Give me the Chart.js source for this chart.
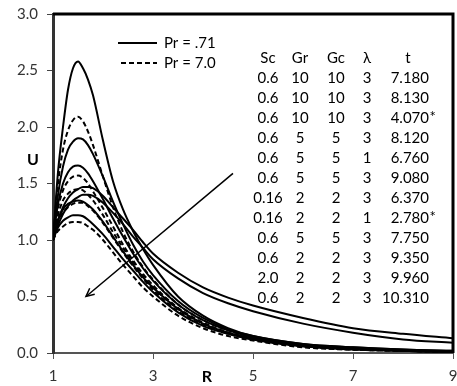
<!DOCTYPE html>
<html>
<head>
<meta charset="utf-8">
<script src="https://cdn.jsdelivr.net/npm/chart.js@4/dist/chart.umd.min.js"></script>
<style>
  html, body { margin: 0; padding: 0; background: #fff; }
  canvas { display: block; }
</style>
</head>
<body>
<canvas id="c" width="457" height="386"></canvas>
<script>
// Radial coordinate R and velocity profiles U(R)
const R = [1, 1.1, 1.2, 1.3, 1.4, 1.5, 1.6, 1.7, 1.8, 2.0, 2.2, 2.4, 2.6, 2.8, 3.0, 3.5, 4.0, 4.5, 5.0, 6.0, 7.0, 8.0, 9.0];

const u01 = [1.0, 1.6, 2.0, 2.33, 2.52, 2.58, 2.52, 2.42, 2.28, 1.88, 1.52, 1.27, 1.08, 0.92, 0.78, 0.5, 0.33, 0.22, 0.15, 0.08, 0.05, 0.03, 0.02];
const u02 = [1.0, 1.5, 1.8, 1.97, 2.06, 2.09, 2.05, 1.96, 1.84, 1.56, 1.29, 1.07, 0.9, 0.76, 0.65, 0.43, 0.29, 0.2, 0.14, 0.07, 0.04, 0.02, 0.01];
const u03 = [1.0, 1.4, 1.65, 1.8, 1.87, 1.9, 1.89, 1.84, 1.76, 1.56, 1.34, 1.14, 0.96, 0.81, 0.69, 0.46, 0.31, 0.21, 0.15, 0.08, 0.05, 0.03, 0.02];
const u04 = [1.0, 1.32, 1.5, 1.6, 1.65, 1.66, 1.64, 1.59, 1.52, 1.36, 1.19, 1.03, 0.88, 0.75, 0.64, 0.43, 0.29, 0.2, 0.14, 0.07, 0.04, 0.02, 0.01];
const u05 = [1.0, 1.28, 1.44, 1.52, 1.56, 1.57, 1.55, 1.5, 1.43, 1.28, 1.12, 0.96, 0.82, 0.7, 0.6, 0.4, 0.27, 0.18, 0.13, 0.06, 0.03, 0.02, 0.01];
const u06 = [1.0, 1.17, 1.29, 1.37, 1.42, 1.45, 1.47, 1.47, 1.46, 1.39, 1.29, 1.19, 1.09, 0.98, 0.88, 0.71, 0.58, 0.49, 0.42, 0.31, 0.22, 0.17, 0.13];
const u07 = [1.0, 1.13, 1.23, 1.3, 1.35, 1.38, 1.4, 1.4, 1.39, 1.33, 1.24, 1.14, 1.03, 0.93, 0.83, 0.66, 0.53, 0.44, 0.37, 0.26, 0.18, 0.12, 0.09];
const u08 = [1.0, 1.22, 1.35, 1.41, 1.44, 1.45, 1.44, 1.4, 1.35, 1.22, 1.07, 0.93, 0.8, 0.68, 0.58, 0.39, 0.26, 0.18, 0.12, 0.06, 0.03, 0.02, 0.01];
const u09 = [1.0, 1.18, 1.27, 1.32, 1.34, 1.35, 1.34, 1.31, 1.27, 1.16, 1.03, 0.9, 0.78, 0.67, 0.58, 0.39, 0.26, 0.18, 0.13, 0.07, 0.04, 0.02, 0.01];
const u10 = [1.0, 1.15, 1.24, 1.29, 1.32, 1.33, 1.33, 1.3, 1.26, 1.15, 1.02, 0.89, 0.77, 0.66, 0.56, 0.37, 0.25, 0.17, 0.12, 0.06, 0.03, 0.02, 0.01];
const u11 = [1.0, 1.11, 1.17, 1.2, 1.22, 1.22, 1.21, 1.18, 1.14, 1.05, 0.94, 0.83, 0.73, 0.63, 0.54, 0.36, 0.24, 0.17, 0.12, 0.06, 0.04, 0.02, 0.01];
const u12 = [1.0, 1.08, 1.12, 1.15, 1.16, 1.16, 1.15, 1.12, 1.09, 1.0, 0.89, 0.78, 0.68, 0.58, 0.5, 0.33, 0.22, 0.15, 0.11, 0.05, 0.03, 0.02, 0.01];

// Prandtl number of each profile (0.71 solid, 7.0 dashed)
const profilePr = [0.71, 7.0, 0.71, 0.71, 7.0, 0.71, 0.71, 7.0, 0.71, 7.0, 0.71, 7.0];
const profiles = [u01, u02, u03, u04, u05, u06, u07, u08, u09, u10, u11, u12];

// Parameter table
const tableHead = ['Sc', 'Gr', 'Gc', '\u03bb', 't'];
const colSc = ['0.6', '0.6', '0.6', '0.6', '0.6', '0.6', '0.16', '0.16', '0.6', '0.6', '2.0', '0.6'];
const colGr = ['10', '10', '10', '5', '5', '5', '2', '2', '5', '2', '2', '2'];
const colGc = ['10', '10', '10', '5', '5', '5', '2', '2', '5', '2', '2', '2'];
const colLambda = ['3', '3', '3', '3', '1', '3', '3', '1', '3', '3', '3', '3'];
const colT = ['7.180', '8.130', '4.070*', '8.120', '6.760', '9.080', '6.370', '2.780*', '7.750', '9.350', '9.960', '10.310'];

const legendLabels = ['Pr = .71', 'Pr = 7.0'];

// Trend arrow (tail, head) in data units
const arrowR = [4.6, 1.66];
const arrowU = [1.59, 0.5];

// Axis ticks
const xTicks = [1, 3, 5, 7, 9];
const yTicks = [0, 0.5, 1.0, 1.5, 2.0, 2.5, 3.0];

const FONT = 'Lato, "Open Sans", sans-serif';
const DASH = [5, 3];

const datasets = profiles.map((u, i) => ({
  data: R.map((r, k) => ({ x: r, y: u[k] })),
  borderColor: '#000',
  borderWidth: 2,
  borderDash: profilePr[i] === 7.0 ? DASH : [],
  pointRadius: 0,
  fill: false,
  cubicInterpolationMode: 'monotone'
}));

datasets.push({
  data: arrowR.map((r, k) => ({ x: r, y: arrowU[k] })),
  borderColor: '#000',
  borderWidth: 1.5,
  pointRadius: 0,
  fill: false,
  tension: 0,
  isArrow: true
});

const decorations = {
  id: 'decorations',
  afterDraw(chart) {
    const ctx = chart.ctx;
    const a = chart.chartArea;
    ctx.save();

    // frame on top and right
    ctx.strokeStyle = '#000';
    ctx.lineWidth = 3;
    ctx.beginPath();
    ctx.moveTo(a.left, a.top);
    ctx.lineTo(a.right, a.top);
    ctx.lineTo(a.right, a.bottom);
    ctx.stroke();

    // arrow head
    const ai = chart.data.datasets.findIndex(d => d.isArrow);
    const pts = chart.getDatasetMeta(ai).data;
    const p0 = pts[0], p1 = pts[1];
    const ang = Math.atan2(p1.y - p0.y, p1.x - p0.x);
    const L = 9, w = 0.45;
    ctx.lineWidth = 1.5;
    ctx.beginPath();
    ctx.moveTo(p1.x - L * Math.cos(ang - w), p1.y - L * Math.sin(ang - w));
    ctx.lineTo(p1.x, p1.y);
    ctx.lineTo(p1.x - L * Math.cos(ang + w), p1.y - L * Math.sin(ang + w));
    ctx.stroke();

    // legend
    ctx.fillStyle = '#000';
    ctx.font = '15px ' + FONT;
    ctx.textBaseline = 'middle';
    ctx.textAlign = 'left';
    const legY = [43, 63];
    legendLabels.forEach((lab, i) => {
      ctx.lineWidth = 2;
      ctx.setLineDash(i === 1 ? DASH : []);
      ctx.beginPath();
      ctx.moveTo(i === 1 ? 121 : 118, legY[i]);
      ctx.lineTo(157, legY[i]);
      ctx.stroke();
      ctx.setLineDash([]);
      ctx.fillText(lab, 164, legY[i]);
    });

    // parameter table
    const colX = [268, 300, 336, 367];
    const tRight = 429;
    const headY = 58, rowH = 20;
    ctx.textAlign = 'center';
    tableHead.forEach((h, j) => {
      ctx.fillText(h, j < 4 ? colX[j] : 408, headY);
    });
    const cols = [colSc, colGr, colGc, colLambda];
    colT.forEach((tv, i) => {
      const y = headY + rowH * (i + 1);
      ctx.textAlign = 'center';
      cols.forEach((c, j) => ctx.fillText(c[i], colX[j], y));
      const num = tv.replace('*', '');
      ctx.textAlign = 'right';
      ctx.fillText(num, tRight, y);
      if (tv.endsWith('*')) {
        ctx.textAlign = 'left';
        ctx.fillText('*', tRight + 0.5, y - 1);
      }
    });

    // axis titles
    ctx.font = 'bold 16px ' + FONT;
    ctx.textAlign = 'center';
    ctx.fillText('U', 33, 160);
    ctx.fillText('R', 207, 377);
    ctx.restore();
  }
};

new Chart(document.getElementById('c'), {
  type: 'line',
  data: { datasets },
  plugins: [decorations],
  options: {
    responsive: false,
    animation: false,
    devicePixelRatio: 1,
    layout: { padding: { left: 0, right: 4, top: 14, bottom: 0 } },
    plugins: { legend: { display: false }, tooltip: { enabled: false } },
    scales: {
      x: {
        type: 'linear',
        min: 1, max: 9,
        afterBuildTicks(s) { s.ticks = xTicks.map(v => ({ value: v })); },
        afterFit(s) { s.height = 33; s.paddingLeft = 0; s.paddingRight = 0; },
        grid: { drawOnChartArea: false, drawTicks: true, tickLength: 6, color: '#555', lineWidth: 1 },
        border: { display: true, color: '#555', width: 2 },
        ticks: { font: { family: FONT, size: 15 }, color: '#333', padding: 8, maxRotation: 0, autoSkip: false,
                 callback: v => String(v) }
      },
      y: {
        type: 'linear',
        min: 0, max: 3,
        afterBuildTicks(s) { s.ticks = yTicks.map(v => ({ value: v })); },
        afterFit(s) { s.width = 53; s.paddingTop = 0; s.paddingBottom = 0; },
        grid: { drawOnChartArea: false, drawTicks: true, tickLength: 6, color: '#444', lineWidth: 1 },
        border: { display: true, color: '#333', width: 3 },
        ticks: { font: { family: FONT, size: 15 }, color: '#333', padding: 9, autoSkip: false,
                 callback: v => Number(v).toFixed(1) }
      }
    }
  }
});
</script>
</body>
</html>
